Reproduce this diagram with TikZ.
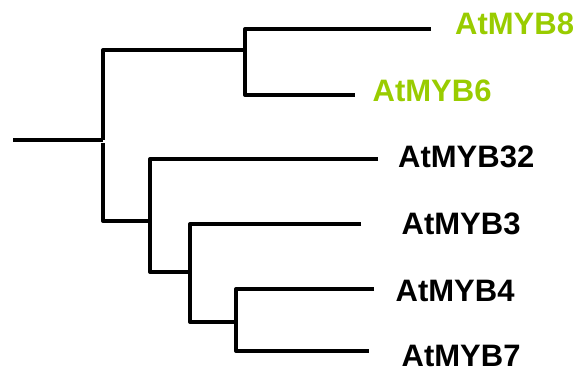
\documentclass[tikz,border=0pt]{standalone}
\usepackage{fontspec}
\setmainfont{Liberation Sans}
\definecolor{leafgreen}{RGB}{153,204,0}
\tikzset{
  branch/.style={line width=4pt, line join=round, line cap=butt},
  taxon/.style={anchor=base west, inner sep=0pt, font=\fontsize{31}{31}\selectfont\bfseries},
}
\begin{document}
\begin{tikzpicture}[x=1pt, y=-1pt]
  \useasboundingbox (0,0) rectangle (578,372);
  % internal nodes and branch corners
  \coordinate (r)   at (13,140);
  \coordinate (a)   at (103,140);
  \coordinate (aT)  at (103,50);
  \coordinate (aL)  at (103,143);
  \coordinate (aB)  at (103,221);
  \coordinate (bM)  at (245,50);
  \coordinate (bT)  at (245,29);
  \coordinate (bB)  at (245,95);
  \coordinate (cM)  at (150,221);
  \coordinate (cT)  at (150,159);
  \coordinate (cB)  at (150,272);
  \coordinate (dM)  at (190,272);
  \coordinate (dT)  at (190,224);
  \coordinate (dB)  at (190,322);
  \coordinate (fM)  at (236,322);
  \coordinate (fT)  at (236,289);
  \coordinate (fB)  at (236,351);
  % tips of the leaf branches
  \coordinate (e8)  at (431,29);
  \coordinate (e6)  at (355,95);
  \coordinate (e32) at (378,159);
  \coordinate (e3)  at (361,224);
  \coordinate (e4)  at (374,289);
  \coordinate (e7)  at (369,351);

  % tree branches
  \draw[branch] (r) -- (a);
  \draw[branch] (a) -- (aT) -- (bM);
  \draw[branch] (aL) -- (aB) -- (cM);
  \draw[branch] (e8) -- (bT) -- (bB) -- (e6);
  \draw[branch] (e32) -- (cT) -- (cB) -- (dM);
  \draw[branch] (e3) -- (dT) -- (dB) -- (fM);
  \draw[branch] (e4) -- (fT) -- (fB) -- (e7);

  % taxon labels
  \node[taxon, text=leafgreen] (t8)  at (455,34)    {AtMYB8};
  \node[taxon, text=leafgreen] (t6)  at (372.5,101.5) {AtMYB6};
  \node[taxon] (t32) at (398,167)   {AtMYB32};
  \node[taxon] (t3)  at (401.5,234) {AtMYB3};
  \node[taxon] (t4)  at (395.5,301.5) {AtMYB4};
  \node[taxon] (t7)  at (401.5,366.5) {AtMYB7};
\end{tikzpicture}
\end{document}
